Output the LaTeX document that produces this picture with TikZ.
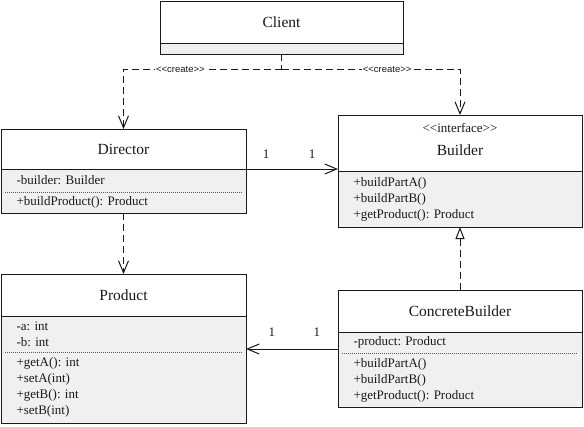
\documentclass[tikz,border=0pt]{standalone}
\usepackage{fontspec}
\setmainfont{Liberation Serif}
\newfontfamily\smallsans{Liberation Sans}
\usetikzlibrary{positioning,arrows.meta}

\definecolor{umlgray}{HTML}{F0F0F0}
\newcommand\stereo[1]{<\kern0pt<#1>\kern0pt>}
\frenchspacing

\tikzset{
  classhead/.style={draw, fill=white, minimum height=42pt, inner sep=0pt, outer sep=0pt,
    font=\fontsize{15.5}{18}\selectfont},
  compart/.style={fill=umlgray, inner xsep=15.5pt, inner ysep=0pt, outer sep=0pt,
    align=left, font=\fontsize{13}{16}\selectfont},
  frame/.style={draw},
  sepline/.style={draw=black!65, dash pattern=on 1pt off 1pt},
  dep/.style={draw, dash pattern=on 7pt off 4pt},
  barb/.style={-{Straight Barb[length=12pt,width=10pt]}},
  realize/.style={-{Triangle[open,length=12pt,width=9pt]}},
  create/.style={fill=white, inner sep=1pt, font=\smallsans\fontsize{9.5}{10}\selectfont},
  mult/.style={inner sep=0pt, font=\fontsize{13}{14}\selectfont},
  stereotype/.style={inner sep=0pt, font=\fontsize{13}{14}\selectfont},
}

\begin{document}
\begin{tikzpicture}[x=1pt, y=-1pt, line width=1pt, black!90]
    \useasboundingbox (0,0) rectangle (584,426);

    % client
    \node[classhead, minimum width=243pt, anchor=north west] (client) at (160,1) {Client};
    \node[compart, draw, text width=212pt, minimum height=11pt, below=0pt of client] (client-op) {};

    % director
    \node[classhead, minimum width=245pt, minimum height=40pt, anchor=north west] (dir) at (1,129) {Director};
    \node[compart, text width=214pt, minimum height=23pt, below=0pt of dir] (dir-at) {-builder: Builder};
    \node[compart, text width=214pt, minimum height=21pt, below=0pt of dir-at] (dir-op) {+buildProduct(): Product};
    \draw[frame] (dir-at.north west) rectangle (dir-op.south east);
    \draw[sepline] ([xshift=4pt]dir-at.south west) -- ([xshift=-4pt]dir-at.south east);

    % builder
    \node[classhead, minimum width=244pt, minimum height=56pt, text height=25pt, text depth=0pt,
      anchor=north west] (bld) at (338,115) {Builder};
    \node[stereotype, below=7.5pt of bld.north] (bld-st) {\stereo{interface}};
    \node[compart, draw, text width=213pt, minimum height=56pt, below=0pt of bld] (bld-op)
      {+buildPartA()\\+buildPartB()\\+getProduct(): Product};

    % product
    \node[classhead, minimum width=245pt, anchor=north west] (prod) at (1,274) {Product};
    \node[compart, text width=214pt, minimum height=36pt, below=0pt of prod] (prod-at) {-a: int\\-b: int};
    \node[compart, text width=214pt, minimum height=71pt, below=0pt of prod-at] (prod-op)
      {+getA(): int\\+setA(int)\\+getB(): int\\+setB(int)};
    \draw[frame] (prod-at.north west) rectangle (prod-op.south east);
    \draw[sepline] ([xshift=4pt]prod-at.south west) -- ([xshift=-4pt]prod-at.south east);

    % concrete builder
    \node[classhead, minimum width=244pt, anchor=north west] (cb) at (338,290) {ConcreteBuilder};
    \node[compart, text width=213pt, minimum height=21pt, below=0pt of cb] (cb-at) {-product: Product};
    \node[compart, text width=213pt, minimum height=54pt, below=0pt of cb-at] (cb-op)
      {+buildPartA()\\+buildPartB()\\+getProduct(): Product};
    \draw[frame] (cb-at.north west) rectangle (cb-op.south east);
    \draw[sepline] ([xshift=4pt]cb-at.south west) -- ([xshift=-4pt]cb-at.south east);

    % edges
    \draw[dep] (client-op.south) -- ++(0,15) coordinate (fork);
    \draw[dep, barb] (fork) -| node[create, pos=0.32] (create-dir) {\stereo{create}} (dir.north);
    \draw[dep, barb] (fork) -| node[create, pos=0.296] (create-bld) {\stereo{create}} (bld.north);
    \draw[dep, barb] (dir-op.south) -- (prod.north);
    \draw[dep, realize] (cb.north) -- (bld-op.south);
    \draw[barb] (dir-at.north east) -- (dir-at.north east -| bld.west)
      node[mult, pos=0.22, above=10pt] (dir-n) {1}
      node[mult, pos=0.72, above=10pt] (bld-n) {1};
    \draw[barb] ([yshift=-6.5pt]cb-at.west) -- ([yshift=-6.5pt]cb-at.west -| prod-at.east)
      node[mult, pos=0.23, above=12.5pt] (cb-n) {1}
      node[mult, pos=0.72, above=12.5pt] (prod-n) {1};

\end{tikzpicture}
\end{document}
